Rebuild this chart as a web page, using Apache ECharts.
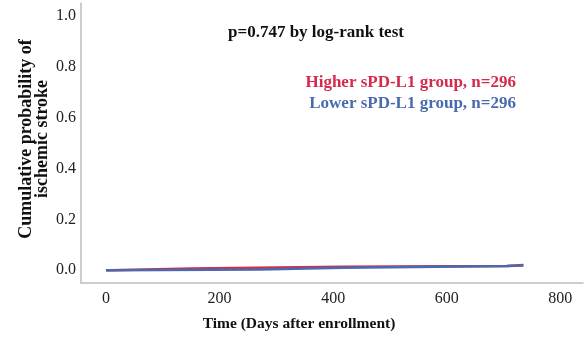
<!DOCTYPE html>
<html>
<head>
<meta charset="utf-8">
<script src="https://cdn.jsdelivr.net/npm/echarts@6/dist/echarts.min.js"></script>
<style>html,body{margin:0;padding:0;background:#fff;}#c{width:585px;height:337px;}</style>
</head>
<body>
<div id="c"></div>
<script>
const timesHigh = [0, 10, 151, 418, 706, 735];
const probHigh = [0, 0.0068, 0.0135, 0.0169, 0.0203, 0.0203];
const timesLow = [0, 10, 271, 418, 706, 735];
const probLow = [0, 0.0034, 0.0101, 0.0169, 0.0186, 0.0186];
const xTicks = [0, 200, 400, 600, 800];
const yTicks = [0, 0.2, 0.4, 0.6, 0.8, 1.0];
const titleText = 'p=0.747 by log-rank test';
const highLabel = 'Higher sPD-L1 group, n=296';
const lowLabel = 'Lower sPD-L1 group, n=296';
const xTitle = 'Time (Days after enrollment)';
const yTitle = 'Cumulative probability of\nischemic stroke';

const RED = '#d42a4c', BLUE = '#4a6aaf';
const FONT = '"Liberation Serif", "DejaVu Serif", serif';
const chart = echarts.init(document.getElementById('c'), null, {renderer: 'canvas'});
const pair = (t, p) => t.map((v, i) => [v, p[i]]);
chart.setOption({
  animation: false,
  grid: {left: 81, right: 2, top: 3, bottom: 54},
  xAxis: {
    type: 'value', min: -44, max: 840,
    axisLine: {show: true, onZero: false, lineStyle: {color: '#bdbdbd', width: 1.5}},
    axisTick: {show: false},
    splitLine: {show: false},
    axisLabel: {customValues: xTicks, color: '#222', fontFamily: FONT, fontSize: 16, margin: 8}
  },
  yAxis: {
    type: 'value', min: -0.05, max: 1.05,
    axisLine: {show: true, onZero: false, lineStyle: {color: '#bdbdbd', width: 1.5}},
    axisTick: {show: false},
    splitLine: {show: false},
    axisLabel: {customValues: yTicks, color: '#222', fontFamily: FONT, fontSize: 16, margin: 5,
      formatter: v => v.toFixed(1)}
  },
  series: [
    {type: 'line', step: 'end', symbol: 'none', data: pair(timesHigh, probHigh),
      lineStyle: {color: RED, width: 2.5}, z: 2},
    {type: 'line', step: 'end', symbol: 'none', data: pair(timesLow, probLow),
      lineStyle: {color: BLUE, width: 2.5}, z: 3}
  ],
  graphic: [
    {type: 'text', left: 228, top: 24, style: {text: titleText, fill: '#111', font: 'bold 17px ' + FONT}},
    {type: 'text', right: 69, top: 74, style: {text: highLabel, fill: RED, font: 'bold 17px ' + FONT}},
    {type: 'text', right: 69, top: 95, style: {text: lowLabel, fill: BLUE, font: 'bold 17px ' + FONT}},
    {type: 'text', x: 299, y: 324, style: {text: xTitle, fill: '#111', font: 'bold 15.5px ' + FONT, align: 'center', verticalAlign: 'middle'}},
    {type: 'text', x: 34, y: 139, rotation: Math.PI / 2,
      style: {text: yTitle, fill: '#111', font: 'bold 18px ' + FONT, align: 'center', verticalAlign: 'middle', lineHeight: 16}}
  ]
});
</script>
</body>
</html>
